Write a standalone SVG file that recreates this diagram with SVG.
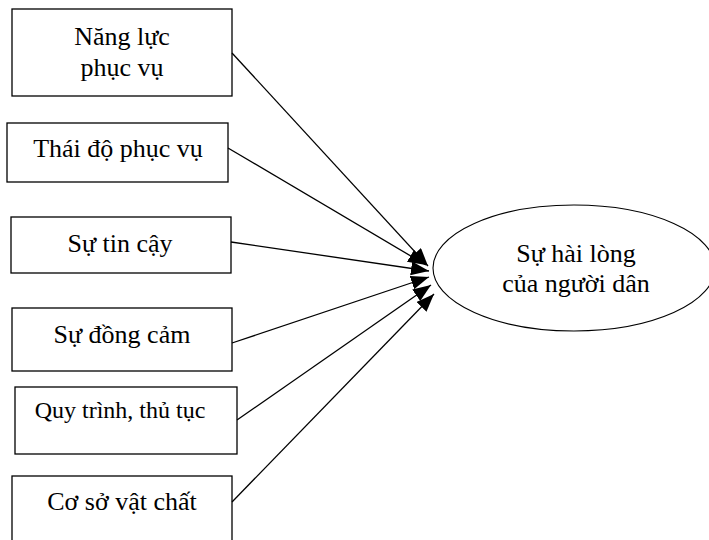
<svg xmlns="http://www.w3.org/2000/svg" width="709" height="540" viewBox="0 0 709 540">
<style>
.box{fill:#fff;stroke:#000;stroke-width:1.3}
.t{font-family:"Liberation Serif","Times New Roman",serif;font-size:26px;fill:#000;text-anchor:middle}
.s{font-size:24px}
.c{stroke:#000;stroke-width:1.3;fill:none}
</style>
<defs>
<marker id="ah" markerUnits="userSpaceOnUse" markerWidth="20" markerHeight="16" refX="18" refY="7" orient="auto">
<path d="M0,0 L18,7 L0,14 Z" fill="#000"/>
</marker>
</defs>
<rect width="709" height="540" fill="#fff"/>
<g id="n1"><rect class="box" x="12" y="9" width="220" height="87"/><text class="t" x="122" y="45">Năng lực</text><text class="t" x="122" y="76">phục vụ</text></g>
<g id="n2"><rect class="box" x="7" y="123" width="221" height="59"/><text class="t" x="118" y="157">Thái độ phục vụ</text></g>
<g id="n3"><rect class="box" x="11" y="217" width="220" height="56"/><text class="t" x="120" y="252">Sự tin cậy</text></g>
<g id="n4"><rect class="box" x="12" y="308" width="220" height="63"/><text class="t" x="122" y="343">Sự đồng cảm</text></g>
<g id="n5"><rect class="box" x="15" y="387" width="222" height="67"/><text class="t s" x="120" y="418">Quy trình, thủ tục</text></g>
<g id="n6"><rect class="box" x="12" y="476" width="220" height="80"/><text class="t" x="122" y="510">Cơ sở vật chất</text></g>
<g id="n7"><ellipse cx="574" cy="268" rx="141" ry="63" fill="#fff" stroke="#000" stroke-width="1.1"/><text class="t" x="576" y="262">Sự hài lòng</text><text class="t" x="576" y="292">của người dân</text></g>
<g id="connectors">
<line class="c" x1="232" y1="53" x2="428" y2="266" marker-end="url(#ah)"/>
<line class="c" x1="228" y1="148" x2="426" y2="265" marker-end="url(#ah)"/>
<line class="c" x1="231" y1="242" x2="429" y2="271" marker-end="url(#ah)"/>
<line class="c" x1="232" y1="343" x2="429" y2="277" marker-end="url(#ah)"/>
<line class="c" x1="237" y1="420" x2="431" y2="285" marker-end="url(#ah)"/>
<line class="c" x1="232" y1="502" x2="434" y2="294" marker-end="url(#ah)"/>
</g>
</svg>
